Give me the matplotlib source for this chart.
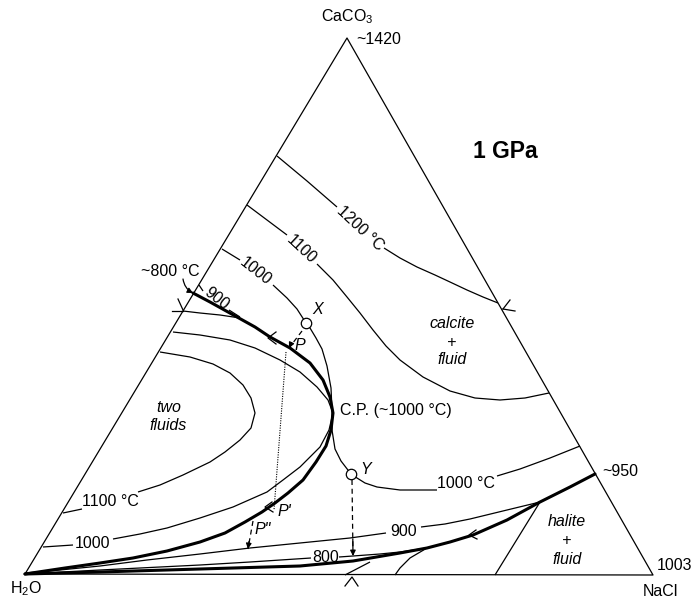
import numpy as np
import matplotlib.pyplot as plt

plt.rcParams['font.family'] = ['Liberation Sans', 'DejaVu Sans']
plt.rcParams['mathtext.fontset'] = 'custom'
plt.rcParams['mathtext.rm'] = 'Liberation Sans'
plt.rcParams['mathtext.it'] = 'Liberation Sans:italic'

# digitised diagram, units follow the reference drawing (x to the right, y downwards)
corner_x = [25, 653, 347, 25]
corner_y = [574, 575, 38, 574]

# isotherms of the calcite liquidus
iso1200_a = [(277, 156), (307, 181), (337, 207)]
iso1200_b = [(384, 248), (400, 258), (417, 267), (435, 275), (450, 282), (467, 290), (483, 297), (498, 303)]
iso1100_a = [(247, 205), (267, 220), (287, 235)]
iso1100_b = [(317, 264), (333, 280), (347, 297), (360, 313), (373, 330), (386, 346), (400, 360),
             (423, 377), (450, 391), (475, 398), (500, 400), (525, 398), (549, 393)]
iso1000_a = [(222, 249), (240, 260)]
iso1000_b = [(273, 285), (287, 298), (297, 309), (306, 323), (310, 328), (316, 338), (322, 349),
             (327, 366), (331, 388), (332, 410), (332, 430), (335, 449), (341, 461), (351, 474),
             (357, 478), (365, 483), (377, 487), (400, 490), (420, 490), (437, 490)]
iso1000_c = [(497, 476), (520, 469), (550, 458), (580, 446)]
iso900_a = [(199, 285), (203, 291)]
iso900_b = [(229, 310), (240, 317)]

# solvus / critical curve and two-fluid isotherms
solvus = [(193, 293), (210, 302), (237, 317), (255, 327), (270, 337), (290, 348), (310, 363),
          (323, 380), (330, 397), (333, 413), (331, 430), (326, 446), (316, 462), (303, 480),
          (288, 493), (275, 503), (262, 512), (245, 522), (225, 533), (200, 542), (167, 551),
          (133, 558), (100, 563), (65, 568), (25, 574)]
edge_line = [(183, 311), (200, 313), (220, 315), (240, 318)]
solv1000 = [(173, 332), (200, 335), (230, 340), (255, 348), (280, 360), (300, 372), (317, 387),
            (328, 400), (333, 413), (329, 430), (320, 447), (300, 467), (283, 480), (267, 492),
            (233, 507), (200, 518), (167, 528), (140, 534), (113, 539)]
solv1000_l = [(43, 547), (73, 545)]
solv1100 = [(160, 352), (190, 357), (213, 364), (230, 373), (243, 385), (251, 398), (255, 413),
            (251, 428), (240, 440), (225, 452), (210, 462), (183, 475), (160, 485), (138, 492)]
solv1100_l = [(63, 513), (82, 509)]

# halite side
iso900_low_a = [(25, 573), (60, 570), (100, 566), (147, 560), (200, 554), (250, 548), (300, 543),
                (350, 538), (386, 533)]
iso900_low_b = [(421, 527), (445, 524), (470, 519), (507, 510), (540, 502)]
iso800_a = [(25, 574), (100, 570), (200, 565), (250, 562), (311, 558)]
iso800_b = [(339, 557), (353, 556), (380, 554), (400, 552), (427, 548)]
cotectic = [(25, 574), (100, 572), (200, 569), (300, 566), (353, 561), (400, 553), (427, 548),
            (450, 542), (473, 535), (507, 520), (540, 502), (570, 487), (595, 474)]
base_a = [(345, 575), (370, 562)]
base_b = [(395, 575), (400, 568), (410, 558), (427, 548)]
halite_line = [(495, 575), (540, 502)]

# path of the example
dotted_pp = [(286, 352), (274, 510)]
dash_xp = [(302, 331), (289, 348)]
dash_pp = [(253, 521), (248, 549)]
dash_y = [(352, 480), (353, 556)]
arrow_800 = [(183, 279), (193, 293)]
pt_x = (306, 323)
pt_y = (351, 474)

marks = [
    [(172, 311), (183, 311)], [(178, 299), (183, 310)],
    [(503, 309), (515, 311)], [(503, 309), (510, 300)],
    [(345, 586), (352, 577), (358, 586)],
    [(276, 332), (268, 338), (276, 344)],
    [(476, 530), (469, 535), (477, 539)],
    [(272, 502), (265, 507), (273, 512)],
]


def xy(pts):
    a = np.array(pts, dtype=float)
    return a[:, 0], a[:, 1]


fig = plt.figure(figsize=(6.93, 5.99), dpi=100)
ax = fig.add_axes([0, 0, 1, 1])
ax.set_xlim(0, 693)
ax.set_ylim(599, 0)
ax.axis('off')

thin = dict(color='black', lw=0.9, solid_capstyle='butt')
ax.plot(corner_x, corner_y, **thin)

for c in [iso1200_a, iso1200_b, iso1100_a, iso1100_b, iso1000_a, iso1000_b, iso1000_c,
          iso900_a, iso900_b, edge_line, solv1000, solv1000_l, solv1100, solv1100_l,
          iso900_low_a, iso900_low_b, iso800_a, iso800_b, base_a, base_b, halite_line]:
    ax.plot(*xy(c), **thin)

for c in [solvus, cotectic]:
    ax.plot(*xy(c), color='black', lw=2.2, solid_capstyle='round')

for m in marks:
    ax.plot(*xy(m), color='black', lw=0.9)

ax.plot(*xy(dotted_pp), color='black', lw=0.8, ls=(0, (1, 1.2)))
for d in [dash_xp, dash_pp, dash_y]:
    x, y = xy(d)
    ax.plot(x, y, color='black', lw=0.9, ls=(0, (4, 3)))
    ax.annotate('', xy=(x[1], y[1]), xytext=(x[1] - (x[1] - x[0]) * 0.2, y[1] - (y[1] - y[0]) * 0.2 - 2),
                arrowprops=dict(arrowstyle='-|>', color='black', lw=0.9, mutation_scale=8,
                                shrinkA=0, shrinkB=0))
ax.annotate('', xy=arrow_800[1], xytext=arrow_800[0],
            arrowprops=dict(arrowstyle='-|>', color='black', lw=0.9, mutation_scale=8,
                            shrinkA=0, shrinkB=0, connectionstyle='arc3,rad=0.25'))

for p in [pt_x, pt_y]:
    ax.plot(p[0], p[1], 'o', ms=7.5, mfc='white', mec='black', mew=0.9, zorder=5)

fs = 11.5
t = dict(fontsize=fs, ha='center', va='center')
ti = dict(fontsize=fs, ha='center', va='center', style='italic')
ax.text(347, 17, 'CaCO$_3$', **t)
ax.text(356, 40, '~1420', fontsize=fs, ha='left', va='center')
ax.text(505, 152, '1 GPa', fontsize=16.5, fontweight='bold', ha='center', va='center')
ax.text(360, 228, '1200 °C', rotation=-43, rotation_mode='anchor', **t)
ax.text(301, 249, '1100', rotation=-43, rotation_mode='anchor', **t)
ax.text(256, 271, '1000', rotation=-38, rotation_mode='anchor', **t)
ax.text(217, 299, '900', rotation=-38, rotation_mode='anchor', **t)
ax.text(170, 272, '~800 °C', **t)
ax.text(318, 310, 'X', **ti)
ax.text(300, 345, 'P', **ti)
ax.text(452, 323, 'calcite', **ti)
ax.text(452, 342, '+', **ti)
ax.text(452, 360, 'fluid', **ti)
ax.text(169, 407, 'two', **ti)
ax.text(168, 425, 'fluids', **ti)
ax.text(340, 410, 'C.P. (~1000 °C)', fontsize=fs, ha='left', va='center')
ax.text(366, 469, 'Y', **ti)
ax.text(466, 483, '1000 °C', **t)
ax.text(602, 472, '~950', fontsize=fs, ha='left', va='center')
ax.text(110, 501, '1100 °C', **t)
ax.text(92, 543, '1000', **t)
ax.text(284, 511, "P'", **ti)
ax.text(263, 530, 'P"', **ti)
ax.text(404, 531, '900', **t)
ax.text(326, 557, '800', **t)
ax.text(567, 522, 'halite', **ti)
ax.text(567, 541, '+', **ti)
ax.text(567, 559, 'fluid', **ti)
ax.text(657, 566, '1003', fontsize=fs, ha='left', va='center')
ax.text(26, 589, 'H$_2$O', **t)
ax.text(660, 591, 'NaCl', **t)

fig.savefig('out.png', dpi=100)
